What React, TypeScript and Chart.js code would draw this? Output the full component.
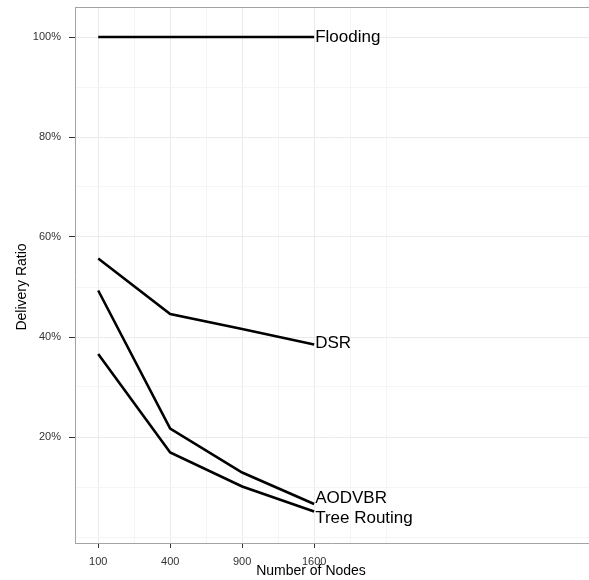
import React, { useEffect, useRef } from "react";
import { Chart, registerables } from "chart.js";

Chart.register(...registerables);

const nodes = [100, 400, 900, 1600];
const seriesNames = ["Flooding", "DSR", "AODVBR", "Tree Routing"];
const flooding = [100, 100, 100, 100];
const dsr = [55.7, 44.6, 41.6, 38.5];
const aodvbr = [49.3, 21.7, 12.9, 6.6];
const treeRouting = [36.6, 16.9, 10.1, 5.1];
const xTickNodes = [100, 400, 900, 1600];
const xMinorNodes = [225, 625, 1225, 2025, 2500];
const yMajorTicks = [20, 40, 60, 80, 100];
const yMinorTicks = [0, 10, 30, 50, 70, 90];

const FONT = "'Liberation Sans', Arial, Helvetica, sans-serif";
const labelNudge: Record<string, number> = {
  Flooding: 0,
  DSR: -1,
  AODVBR: -5.5,
  "Tree Routing": 7,
};

export default function App() {
  const ref = useRef<HTMLCanvasElement | null>(null);

  useEffect(() => {
    if (!ref.current) return;
    const seriesValues = [flooding, dsr, aodvbr, treeRouting];
    const datasets = seriesNames.map((name, i) => ({
      label: name,
      data: nodes.map((n, j) => ({ x: Math.sqrt(n), y: seriesValues[i][j] })),
      borderColor: "#000000",
      backgroundColor: "#000000",
      borderWidth: 2.6,
      pointRadius: 0,
      tension: 0,
      fill: false,
    }));

    const isMajorX = (v: number) => xTickNodes.some((n) => Math.abs(Math.sqrt(n) - v) < 1e-6);
    const isMajorY = (v: number) => yMajorTicks.includes(v);

    const extras = {
      id: "extras",
      beforeDatasetsDraw(chart: any) {
        const { ctx, chartArea } = chart;
        ctx.save();
        ctx.strokeStyle = "#a3a3a3";
        ctx.lineWidth = 1;
        ctx.beginPath();
        ctx.moveTo(chartArea.left, chartArea.top + 0.5);
        ctx.lineTo(chartArea.right, chartArea.top + 0.5);
        ctx.stroke();
        ctx.restore();
      },
      afterDatasetsDraw(chart: any) {
        const { ctx } = chart;
        ctx.save();
        ctx.fillStyle = "#000000";
        ctx.font = `17px ${FONT}`;
        ctx.textAlign = "left";
        ctx.textBaseline = "middle";
        chart.data.datasets.forEach((ds: any, i: number) => {
          const meta = chart.getDatasetMeta(i);
          const pt = meta.data[meta.data.length - 1];
          ctx.fillText(ds.label, pt.x + 1, pt.y + (labelNudge[ds.label] || 0));
        });
        // axis titles
        ctx.font = `14px ${FONT}`;
        ctx.textAlign = "center";
        ctx.textBaseline = "middle";
        ctx.fillText("Number of Nodes", 311, 571);
        ctx.translate(22, 287);
        ctx.rotate(-Math.PI / 2);
        ctx.fillText("Delivery Ratio", 0, 0);
        ctx.restore();
      },
    };

    const chart = new Chart(ref.current, {
      type: "line",
      data: { datasets } as any,
      plugins: [extras],
      options: {
        animation: false,
        responsive: false,
        devicePixelRatio: 1,
        layout: { padding: { top: 7, right: 0, left: 0, bottom: 0 } },
        plugins: { legend: { display: false }, tooltip: { enabled: false } },
        scales: {
          x: {
            type: "linear",
            min: 6.775,
            max: 78.19,
            afterBuildTicks: (scale: any) => {
              const vals = [...xTickNodes, ...xMinorNodes]
                .map((n) => Math.sqrt(n))
                .sort((a, b) => a - b);
              scale.ticks = vals.map((v) => ({ value: v }));
            },
            afterFit: (scale: any) => {
              scale.height = 37;
              scale.paddingLeft = 0;
              scale.paddingRight = 0;
            },
            grid: {
              color: (c: any) => (isMajorX(c.tick?.value) ? "#ebebeb" : "#f5f5f5"),
              tickColor: (c: any) => (isMajorX(c.tick?.value) ? "#333333" : "rgba(0,0,0,0)"),
              tickLength: 5,
              lineWidth: 1,
            },
            border: { display: true, color: "#a3a3a3", width: 1 },
            ticks: {
              autoSkip: false,
              maxRotation: 0,
              padding: 7,
              color: "#333333",
              font: { family: FONT, size: 11 },
              callback: (v: any) => (isMajorX(Number(v)) ? String(Math.round(Number(v) * Number(v))) : ""),
            },
          },
          y: {
            type: "linear",
            min: -1.2,
            max: 106,
            afterBuildTicks: (scale: any) => {
              const vals = [...yMajorTicks, ...yMinorTicks].sort((a, b) => a - b);
              scale.ticks = vals.map((v) => ({ value: v }));
            },
            afterFit: (scale: any) => {
              scale.width = 75;
              scale.paddingTop = 0;
              scale.paddingBottom = 0;
            },
            grid: {
              color: (c: any) => (isMajorY(c.tick?.value) ? "#ebebeb" : "#f5f5f5"),
              tickColor: (c: any) => (isMajorY(c.tick?.value) ? "#333333" : "rgba(0,0,0,0)"),
              tickLength: 6,
              lineWidth: 1,
            },
            border: { display: true, color: "#a3a3a3", width: 1 },
            ticks: {
              autoSkip: false,
              padding: 8,
              color: "#333333",
              font: { family: FONT, size: 11 },
              callback: (v: any) => (isMajorY(Number(v)) ? `${v}%` : ""),
            },
          },
        },
      },
    } as any);
    return () => chart.destroy();
  }, []);

  return (
    <div style={{ position: "absolute", left: 0, top: 0, width: 589, height: 580, background: "#fff" }}>
      <canvas ref={ref} width={589} height={580} style={{ display: "block", width: 589, height: 580 }} />
    </div>
  );
}
